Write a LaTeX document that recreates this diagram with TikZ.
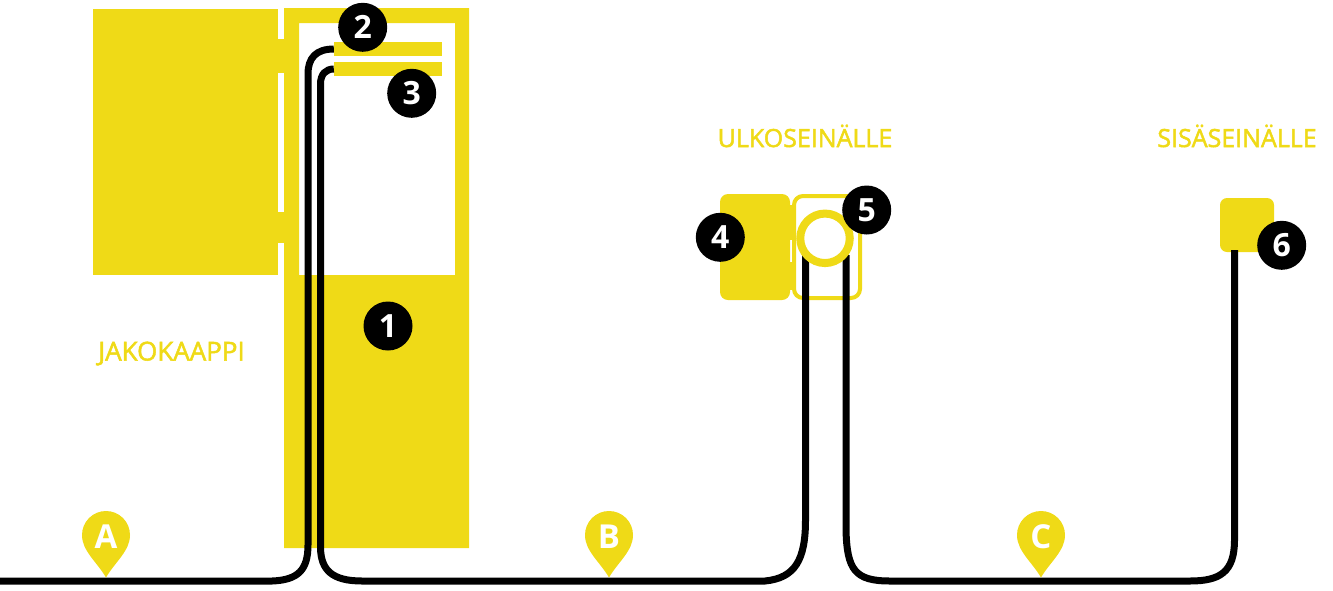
\documentclass[tikz,border=0pt]{standalone}
\usepackage{fontspec}
\setmainfont{Open Sans}
\definecolor{ky}{HTML}{EFDA17}
\newcommand{\thicktext}[1]{\special{pdf:code 2 Tr 0.5 w}#1\special{pdf:code 0 Tr}}
\tikzset{
  x=1pt,y=-1pt,
  fillbox/.style={fill=ky,draw=none},
  badge/.style={circle,fill=black,text=white,minimum size=49pt,inner sep=0pt,font=\fontsize{32}{32}\selectfont\bfseries},
  wire/.style={draw=black,line width=7pt},
  pinlabel/.style={text=white,font=\fontsize{33}{33}\selectfont\bfseries,inner sep=0pt},
  caption/.style={text=ky,font=\fontsize{25}{25}\selectfont,inner sep=0pt,anchor=base},
}
\newcommand{\mappin}[2]{%
  \fill[ky] (#1-24,535) arc[start angle=180,end angle=360,radius=24]
    .. controls (#1+24,551) and (#1+9,562) .. (#1,577.5)
    .. controls (#1-9,562) and (#1-24,551) .. (#1-24,535) -- cycle;
  \node[pinlabel] at (#1,536.5) {#2};}
\begin{document}
\begin{tikzpicture}
\useasboundingbox (0,0) rectangle (1333,590);
% cabinet
\fill[ky] (93,9) rectangle (278,275);
\fill[ky] (278,39) rectangle (284,73);
\fill[ky] (278,212) rectangle (284,243);
\fill[ky,even odd rule] (284,8) rectangle (469,548) (299,23) rectangle (455,275);
\node[fillbox,minimum width=108pt,minimum height=14pt,inner sep=0pt] (bar2) at (388,49) {};
\node[fillbox,minimum width=108pt,minimum height=14pt,inner sep=0pt] (bar3) at (388,69) {};
% outdoor unit
\node[fillbox,rounded corners=8pt,minimum width=70pt,minimum height=106pt,inner sep=0pt] (door4) at (755,247) {};
\fill[ky] (789,205) rectangle (794,240);
\fill[ky] (789,262) rectangle (794,290);
\node[draw=ky,line width=4pt,rounded corners=9pt,minimum width=66pt,minimum height=102pt,inner sep=0pt,outer sep=0pt] (box5) at (827,247) {};
% indoor box
\node[fillbox,rounded corners=7pt,minimum width=54pt,minimum height=54pt,inner sep=0pt] (box6) at (1247,225) {};
% wires
\coordinate (w0) at (0,581);
\coordinate (w5a) at (805.5,255);
\coordinate (w5b) at (846,255);
\coordinate (w6) at (1234.5,250);
\draw[wire] (w0) -- (272,581) .. controls (298,580) and (308,570) .. (308,545)
  -- (308,74) .. controls (308,58) and (316,49) .. (bar2.west);
\draw[wire] (bar3.west) .. controls (326,69) and (320.5,74) .. (320.5,84)
  -- (320.5,548) .. controls (321,570) and (332,581) .. (362,581)
  -- (765,581) .. controls (795,578) and (805.5,560) .. (805.5,520) -- (w5a);
\draw[wire] (w5b) -- (846,530) .. controls (847,570) and (855,581) .. (890,581)
  -- (1190,581) .. controls (1220,581) and (1234.5,572) .. (1234.5,540) -- (w6);
% ring over wires
\node[circle,draw=ky,fill=white,line width=8pt,minimum size=49.5pt,inner sep=0pt,outer sep=0pt] (ring) at (825,238.3) {};
% badges
\node[badge] (n1) at (388,326) {1};
\node[badge] (n2) at (362.7,27.3) {2};
\node[badge] (n3) at (411.7,93.3) {3};
\node[badge] (n4) at (720.3,237.3) {4};
\node[badge] (n5) at (866.7,210) {5};
\node[badge] (n6) at (1281.7,245.3) {6};
% pins
\mappin{106}{A}
\mappin{609}{B}
\mappin{1041}{C}
% captions
\node[caption,font=\fontsize{26}{26}\selectfont] (c1) at (171.5,360.5) {\thicktext{JAKOKAAPPI}};
\node[caption] (c2) at (805,147) {\thicktext{ULKOSEINÄLLE}};
\node[caption] (c3) at (1237,147) {\thicktext{SISÄSEINÄLLE}};
\end{tikzpicture}
\end{document}
